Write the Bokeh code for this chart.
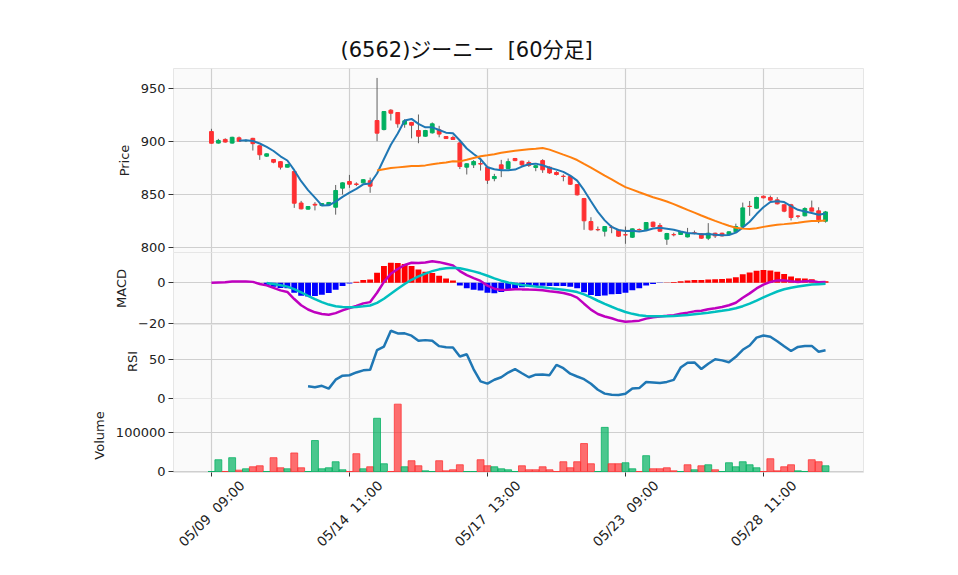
import math
import numpy as np
import pandas as pd
from bokeh.plotting import figure
from bokeh.layouts import column
from bokeh.models import Range1d, FixedTicker, Grid, ColumnDataSource
from bokeh.core.properties import value
from bokeh.embed import file_html
from bokeh.resources import INLINE

title_text = "(6562)ジーニー\u00a0 [60分足]"
tick_pos = [0, 20, 40, 60, 80]
tick_labels = ["05/09\u00a0 09:00", "05/14\u00a0 11:00", "05/17\u00a0 13:00",
               "05/23\u00a0 09:00", "05/28\u00a0 11:00"]

opens = [909.4, 898.5, 902.0, 898.5, 903.5, 900.8, 903.0, 896.0, 886.2, 883.0,
         881.0, 875.8, 871.7, 842.0, 836.2, 840.8, 839.6, 840.0, 838.0, 856.0,
         862.3, 860.0, 861.0, 863.0, 919.8, 911.3, 929.6, 927.4, 916.4, 918.0,
         910.4, 905.0, 908.2, 911.0, 904.7, 903.8, 898.7, 875.8, 878.0, 879.2,
         875.8, 865.0, 878.0, 874.5, 884.0, 881.4, 880.2, 875.5, 882.0, 875.8,
         870.8, 867.3, 867.0, 859.4, 846.2, 824.5, 817.0, 815.4, 819.2, 816.4,
         812.0, 809.7, 817.0, 816.7, 823.9, 820.8, 807.9, 812.2, 812.3, 810.0,
         813.9, 812.9, 808.8, 813.5, 813.5, 812.3, 814.8, 819.8, 838.9, 837.1,
         848.4, 847.2, 845.0, 840.3, 840.3, 829.7, 829.9, 837.4, 834.6, 824.8]
highs = [912.0, 902.5, 903.0, 904.5, 904.7, 902.0, 903.5, 896.5, 888.8, 883.5,
         881.5, 879.0, 872.5, 844.0, 839.0, 842.8, 842.0, 843.0, 859.0, 861.5,
         868.5, 861.5, 864.5, 866.0, 960.0, 928.5, 930.5, 927.8, 921.0, 918.5,
         925.5, 911.0, 918.0, 914.8, 905.2, 905.5, 900.0, 879.5, 882.5, 884.6,
         876.5, 869.5, 882.7, 884.0, 884.5, 882.0, 882.0, 877.8, 883.3, 876.5,
         872.0, 869.0, 868.0, 860.0, 846.8, 828.6, 819.8, 820.3, 821.0, 817.0,
         819.8, 818.0, 818.0, 824.0, 824.5, 823.0, 813.8, 814.0, 815.5, 818.5,
         816.0, 813.5, 823.0, 814.0, 814.0, 815.3, 822.5, 842.4, 843.9, 848.0,
         849.0, 849.0, 847.5, 840.8, 841.2, 830.5, 838.0, 844.3, 838.0, 834.5]
lows = [898.0, 898.0, 899.0, 898.0, 900.0, 899.5, 891.5, 882.7, 885.5, 879.5,
        873.6, 875.5, 837.4, 836.0, 835.8, 835.0, 839.0, 839.5, 831.0, 850.0,
        856.3, 858.0, 860.5, 851.6, 900.3, 910.5, 919.8, 913.0, 913.0, 903.0,
        898.4, 904.5, 907.5, 904.0, 902.5, 901.5, 874.0, 868.9, 875.0, 872.6,
        860.0, 862.5, 866.4, 874.0, 881.5, 877.0, 876.0, 872.0, 870.4, 869.5,
        868.0, 862.5, 859.0, 849.0, 816.7, 816.0, 815.4, 810.4, 813.5, 810.0,
        803.5, 809.0, 816.0, 816.2, 819.0, 815.0, 802.5, 810.5, 811.8, 809.5,
        812.5, 808.3, 807.0, 809.0, 810.5, 811.8, 814.3, 819.3, 829.9, 836.6,
        846.4, 844.2, 840.7, 833.3, 825.5, 827.5, 829.4, 834.0, 823.0, 823.5]
closes = [898.4, 901.0, 899.5, 904.0, 900.3, 901.0, 898.0, 887.5, 888.4, 880.5,
          875.8, 878.3, 841.8, 836.5, 838.7, 840.0, 841.5, 842.5, 853.8, 861.0,
          859.7, 859.5, 864.0, 857.9, 907.9, 928.3, 926.7, 916.7, 919.5, 915.4,
          905.0, 910.4, 916.7, 907.0, 902.8, 901.9, 876.4, 879.0, 881.1, 878.7,
          863.5, 867.0, 874.0, 881.0, 882.0, 878.0, 877.5, 877.2, 873.3, 870.4,
          868.9, 867.0, 859.7, 849.7, 825.2, 816.7, 816.7, 819.8, 818.8, 810.7,
          811.9, 817.6, 816.7, 823.6, 819.8, 815.4, 813.2, 812.0, 814.8, 813.2,
          813.5, 808.8, 813.5, 811.0, 811.0, 814.8, 819.8, 837.4, 838.7, 847.2,
          846.9, 844.7, 841.2, 834.3, 828.3, 829.5, 836.8, 834.3, 826.1, 833.6]
volumes = [0, 30400, 0, 35700, 3500, 7000, 12200, 14800, 0, 35700,
           9600, 7000, 47900, 9600, 0, 80000, 7000, 9600, 25200, 4400,
           0, 46000, 7000, 12200, 137500, 20000, 0, 174000, 12200, 27800,
           14800, 1700, 0, 27800, 1700, 4400, 17400, 0, 0, 30400,
           14800, 12200, 7000, 4400, 0, 14800, 4400, 4400, 12200, 4400,
           0, 25200, 9600, 25200, 72200, 20000, 0, 114000, 20000, 20000,
           22600, 7000, 0, 40900, 7000, 7000, 9600, 1700, 0, 17400,
           4400, 14800, 17400, 4400, 0, 22600, 12200, 25200, 17400, 9600,
           0, 33000, 1700, 12200, 17400, 1700, 0, 30400, 25200, 14800]

FONT = "DejaVu Sans"
UP = "#00b060"
DOWN = "#fe3032"
W = 958
LEFT = 173
RIGHT = W - 863
PAD = 8
VOL_BOTTOM = 10

n = len(closes)
idx = np.arange(n)
df = pd.DataFrame({"x": idx, "open": opens, "high": highs, "low": lows,
                   "close": closes, "volume": volumes})
df["top"] = df[["open", "close"]].max(axis=1)
df["bottom"] = df[["open", "close"]].min(axis=1)
df["ccolor"] = np.where(df["close"] >= df["open"], UP, DOWN)
prev = df["close"].shift(1)
df["vcolor"] = np.where((df["close"] >= prev) | prev.isna(), UP, DOWN)
df["ma5"] = df["close"].rolling(5).mean()
df["ma25"] = df["close"].rolling(25).mean()
ema12 = df["close"].ewm(span=12, adjust=False).mean()
ema26 = df["close"].ewm(span=26, adjust=False).mean()
df["macd"] = ema12 - ema26
df["signal"] = df["macd"].ewm(span=9, adjust=False, min_periods=9).mean()
df["hist"] = df["macd"] - df["signal"]
df["hcolor"] = np.where(df["hist"] >= 0, "#ff0000", "#0000ff")
d = df["close"].diff()
gain = d.clip(lower=0).rolling(14).mean()
loss = (-d.clip(upper=0)).rolling(14).mean()
df["rsi"] = 100 * gain / (gain + loss)

src = ColumnDataSource(df)
xr = Range1d(-5.5, 94.5)


def make_fig(frame_h, yr, top, bottom, ylabel, yticks, show_x=False, title=None, overlap=True):
    kw = dict(width=W, height=frame_h + top + bottom, x_range=xr, y_range=yr,
              output_backend="svg", toolbar_location=None,
              min_border_left=LEFT, min_border_right=RIGHT,
              min_border_top=top, min_border_bottom=bottom,
              x_axis_location="below" if show_x else None)
    if title is not None:
        kw["title"] = title
    if overlap:
        kw["margin"] = (-2 * PAD, 0, 0, 0)
    p = figure(**kw)
    p.background_fill_color = "#fafafa"
    p.border_fill_color = None
    p.outline_line_color = "#e6e6e6"
    yax = p.yaxis[0]
    yax.ticker = FixedTicker(ticks=yticks)
    yax.axis_label = ylabel
    yax.axis_label_text_font = FONT
    yax.axis_label_text_font_style = "normal"
    yax.axis_label_text_font_size = "13px"
    yax.axis_label_text_color = "#222222"
    yax.axis_label_standoff = 6
    yax.major_label_text_font = FONT
    yax.major_label_text_font_size = "13px"
    yax.major_label_text_color = "#222222"
    yax.axis_line_color = None
    yax.major_tick_line_color = "#333333"
    yax.major_tick_out = 5
    yax.major_tick_in = 0
    yax.minor_tick_line_color = None
    yax.major_label_standoff = 3
    p.ygrid.grid_line_color = "#cfcfcf"
    p.ygrid.grid_line_width = 1.2
    for g in list(p.xgrid):
        g.visible = False
    p.add_layout(Grid(dimension=0, ticker=FixedTicker(ticks=tick_pos),
                      grid_line_color="#cfcfcf", grid_line_width=1.2))
    return p


p1 = make_fig(184, Range1d(795.3, 968.9), 68, PAD, "Price", [800, 850, 900, 950],
              title=title_text, overlap=False)
p1.title.text_font = "DejaVu Sans, Noto Sans CJK JP"
p1.title.text_font_size = "21px"
p1.title.text_font_style = "normal"
p1.title.text_color = "#111111"
p1.title.align = "left"
p1.title.offset = 167
p1.title.standoff = 14
p1.segment(x0="x", y0="low", x1="x", y1="high", source=src, line_color="#606060", line_width=1)
p1.vbar(x="x", width=0.55, top="top", bottom="bottom", source=src,
        fill_color="ccolor", line_color="ccolor", line_width=1)
p1.line(x="x", y="ma5", source=src, line_color="#1f77b4", line_width=2)
p1.line(x="x", y="ma25", source=src, line_color="#ff7f0e", line_width=2)

p2 = make_fig(72, Range1d(-20.3, 14.8), PAD, PAD, "MACD", [-20, 0])
p2.yaxis[0].major_label_overrides = {-20: "\u221220"}
p2.vbar(x="x", width=0.85, top="hist", bottom=0, source=src,
        fill_color="hcolor", line_color=None)
p2.line(x="x", y="macd", source=src, line_color="#bf00bf", line_width=2.5)
p2.line(x="x", y="signal", source=src, line_color="#00bfbf", line_width=2.5)

p3 = make_fig(74, Range1d(-0.4, 95.3), PAD, PAD, "RSI", [0, 50])
p3.line(x="x", y="rsi", source=src, line_color="#1f77b4", line_width=2.5)

p4 = make_fig(74, Range1d(-2600, 188600), PAD, VOL_BOTTOM, "Volume", [0, 100000], show_x=True)
p4.yaxis[0].major_label_overrides = {0: "0", 100000: "100000"}
p4.vbar(x="x", width=1.0, top="volume", bottom=0, source=src,
        fill_color="vcolor", fill_alpha=0.7, line_color="vcolor", line_alpha=0.75)
xax = p4.xaxis[0]
xax.ticker = FixedTicker(ticks=tick_pos)
xax.major_label_text_color = None
xax.major_label_standoff = 0
xax.axis_line_color = None
xax.major_tick_line_color = "#333333"
xax.major_tick_out = 4
xax.major_tick_in = 0
xax.minor_tick_line_color = None

# transparent strip (overlapping the volume panel's bottom border) for the rotated time labels
STRIP_H = 575 - (252 + 72 + 74 + 74)
p5 = figure(width=W, height=STRIP_H, x_range=xr, y_range=Range1d(0, STRIP_H),
            output_backend="svg", toolbar_location=None,
            min_border_left=LEFT, min_border_right=RIGHT,
            min_border_top=0, min_border_bottom=0,
            x_axis_location=None, y_axis_location=None,
            margin=(-VOL_BOTTOM, 0, 0, 0))
p5.outline_line_color = None
p5.background_fill_color = None
p5.border_fill_color = None
p5.grid.visible = False
lab_src = ColumnDataSource(dict(x=tick_pos, text=tick_labels))
p5.text(x="x", y=STRIP_H - 41, text="text", source=lab_src, angle=45, angle_units="deg",
        text_align="center", text_baseline="middle", text_font=value(FONT),
        text_font_size="13.5px", text_color="#222222")

layout = column(p1, p2, p3, p4, p5, spacing=0)
open("out.html", "w").write(file_html(layout, INLINE))
